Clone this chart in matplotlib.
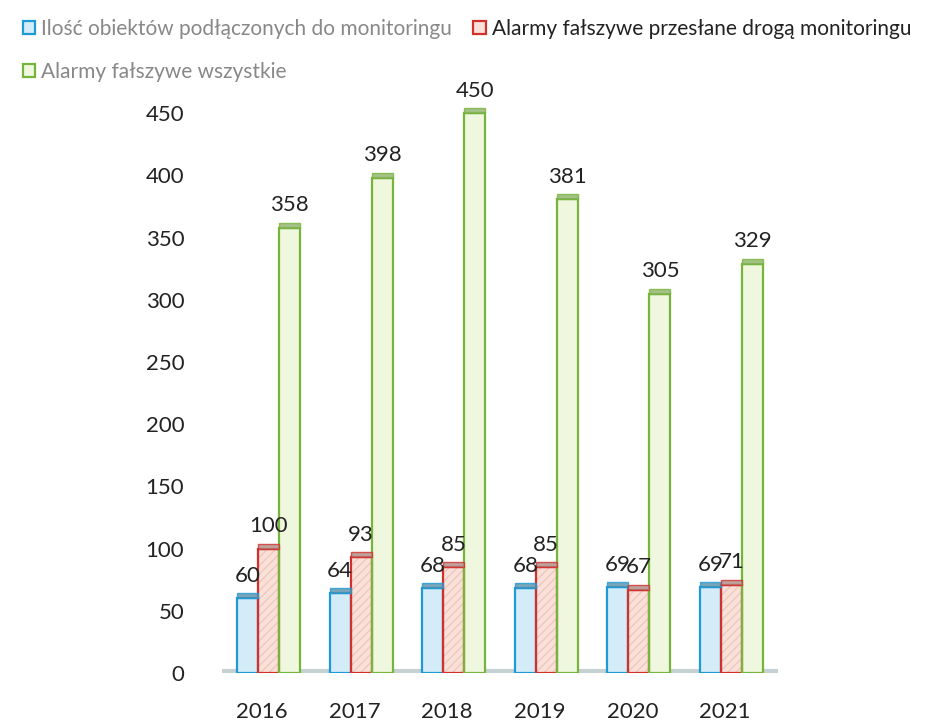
import numpy as np
import matplotlib
matplotlib.use("Agg")
import matplotlib.pyplot as plt
from matplotlib.patches import Patch

# Dane
years = ["2016", "2017", "2018", "2019", "2020", "2021"]
objects = [60, 64, 68, 68, 69, 69]
false_monitoring = [100, 93, 85, 85, 67, 71]
false_all = [358, 398, 450, 381, 305, 329]
labels = ["Ilość obiektów podłączonych do monitoringu",
          "Alarmy fałszywe przesłane drogą monitoringu",
          "Alarmy fałszywe wszystkie"]

plt.rcParams['font.family'] = ['Lato', 'DejaVu Sans']

W, H = 949, 721
fig = plt.figure(figsize=(W / 100, H / 100), dpi=100)

# axes in pixel coordinates: x px = 237 + 92.6*x, y px = 673 - 1.244*y
left_px, right_px = 205, 800
bot_px, top_px = 673, 85
ax = fig.add_axes([left_px / W, 1 - bot_px / H, (right_px - left_px) / W, (bot_px - top_px) / H])
ax.set_xlim((left_px - 237) / 92.6, (right_px - 237) / 92.6)
ax.set_ylim(0, (bot_px - top_px) / 1.244)

x = np.arange(len(years))
bw = 21 / 92.6
cap = 4.0

series = [
    (objects, 0, "#1e9ad6", "#d3ecf8", "#5a8fa8", None),
    (false_monitoring, 1, "#d2302c", "#f9e1da", "#b08a86", "////"),
    (false_all, 2, "#76b53a", "#eff7df", "#8fb36a", None),
]
handles = []
for vals, k, ec, fc, capc, hatch in series:
    xs = x + k * bw
    ax.bar(xs, vals, width=bw, align="edge", color=fc, linewidth=0, zorder=3)
    if hatch:
        ax.bar(xs, vals, width=bw, align="edge", color="none", edgecolor="#efc7bd",
               hatch=hatch, linewidth=0, zorder=3.2)
    ax.bar(xs, vals, width=bw, align="edge", facecolor="none", edgecolor=ec,
           linewidth=1.6, zorder=3.4)
    # top "3D" cap
    ax.bar(xs, [cap] * len(vals), bottom=vals, width=bw, align="edge", color=capc,
           edgecolor=ec, linewidth=1.0, alpha=0.8, zorder=4)
    for xi, v in zip(xs, vals):
        ax.text(xi + bw / 2, v + cap + 6, str(v), ha="center", va="bottom",
                fontsize=16, color="#222222", zorder=5)
    handles.append(Patch(facecolor=fc, edgecolor=ec, linewidth=1.6))

# floor
ax.plot([(222 - 237) / 92.6, (778 - 237) / 92.6], [1.5, 1.5], color="#c5d1d3",
        linewidth=3, solid_capstyle="butt", zorder=2)

ax.set_yticks(np.arange(0, 451, 50))
ax.set_xticks(x + 0.27)
ax.set_xticklabels(years)
ax.tick_params(axis="both", length=0, labelsize=16, labelcolor="#222222")
ax.tick_params(axis="y", pad=15)
ax.tick_params(axis="x", pad=21)
for s in ax.spines.values():
    s.set_visible(False)

order = [0, 2, 1]
leg = fig.legend([handles[i] for i in order], [labels[i] for i in order],
                 loc="upper left", bbox_to_anchor=(0.004, 1.0), ncol=2,
                 frameon=False, fontsize=15, handlelength=0.6, handleheight=0.6,
                 handletextpad=0.3, columnspacing=1.0, labelspacing=1.1,
                 borderaxespad=0.5)
for t, c in zip(leg.get_texts(), ["#888888", "#888888", "#222222"]):
    t.set_color(c)

fig.savefig("out.png", dpi=100)
